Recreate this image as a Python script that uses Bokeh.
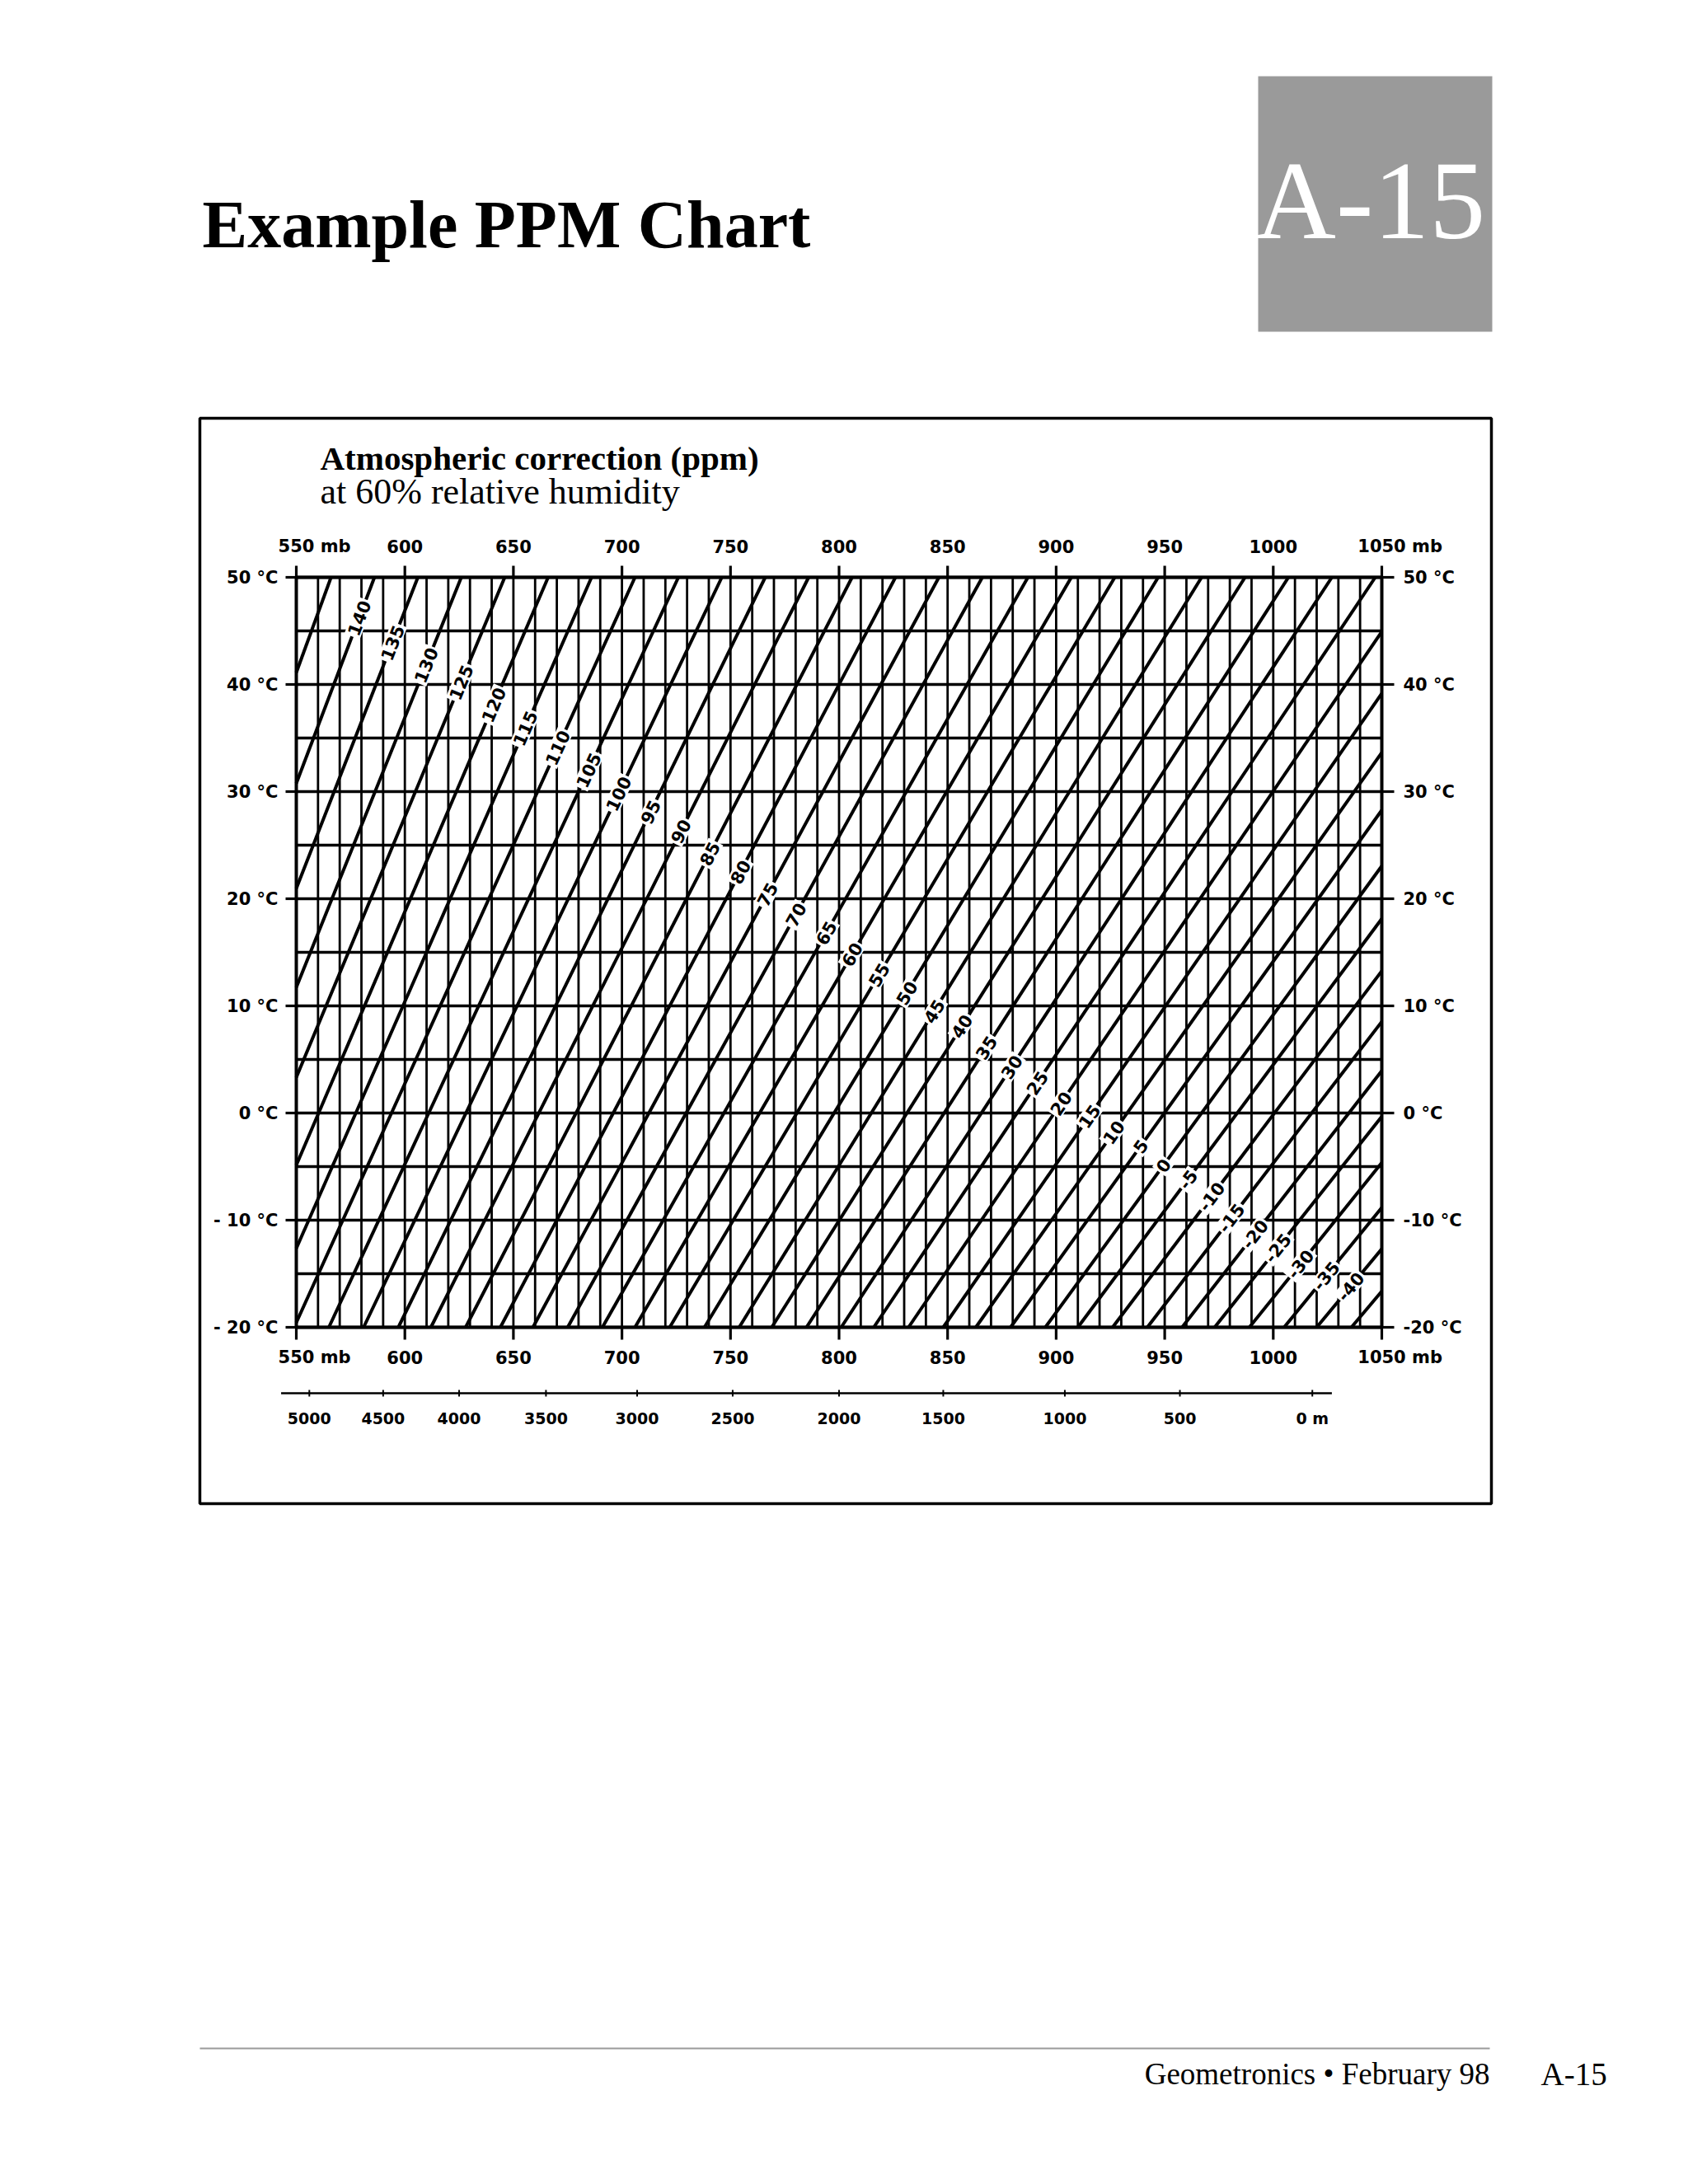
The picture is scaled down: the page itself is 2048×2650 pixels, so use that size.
import math
from bokeh.plotting import figure
from bokeh.models import Range1d
from bokeh.core.properties import value
from bokeh.embed import file_html
from bokeh.resources import INLINE

# ---------------- data ----------------
pressure_ticks = [550, 600, 650, 700, 750, 800, 850, 900, 950, 1000, 1050]
pressure_tick_labels = ["550 mb", "600", "650", "700", "750", "800", "850", "900",
                        "950", "1000", "1050 mb"]
temp_ticks = [-20, -10, 0, 10, 20, 30, 40, 50]
temp_labels_left = ["- 20 °C", "- 10 °C", "0 °C", "10 °C", "20 °C", "30 °C", "40 °C", "50 °C"]
temp_labels_right = ["-20 °C", "-10 °C", "0 °C", "10 °C", "20 °C", "30 °C", "40 °C", "50 °C"]

grid_pressures = [550 + 10 * i for i in range(51)]   # fine grid: every 10 mb
grid_temps = [-20 + 5 * i for i in range(15)]         # fine grid: every 5 °C

# ppm iso-lines: pressure (mb) where each line meets 50 °C and -20 °C
ppm_values = [145, 140, 135, 130, 125, 120, 115, 110, 105, 100, 95, 90, 85, 80, 75,
              70, 65, 60, 55, 50, 45, 40, 35, 30, 25, 20, 15, 10, 5, 0,
              -5, -10, -15, -20, -25, -30, -35, -40, -45]
ppm_p_at_50c = [566, 586, 606, 626, 646, 666, 686, 706, 726, 746, 766, 786, 806, 826, 846,
                866, 887, 907, 927, 947, 967, 987, 1007, 1027, 1047, 1067, 1087, 1107, 1127, 1147,
                1167, 1187, 1207, 1227, 1247, 1267, 1287, 1307, 1327]
ppm_p_at_m20c = [440, 455, 471, 487, 502, 518, 534, 549, 565, 581, 597, 612, 628, 644, 659,
                 675, 691, 706, 722, 738, 754, 769, 785, 801, 816, 832, 848, 863, 879, 895,
                 910, 926, 942, 958, 973, 989, 1005, 1020, 1036]

# labels written on the iso-lines, and the temperature at which each sits
label_ppm = [140, 135, 130, 125, 120, 115, 110, 105, 100, 95, 90, 85, 80, 75, 70, 65, 60,
             55, 50, 45, 40, 35, 30, 25, 20, 15, 10, 5, 0, -5, -10, -15, -20, -25, -30,
             -35, -40]
label_temp = [46.2, 43.9, 41.8, 40.2, 38.1, 35.9, 34.1, 32.0, 29.8, 28.1, 26.3, 24.2, 22.5,
              20.4, 18.5, 16.8, 14.8, 12.9, 11.2, 9.5, 8.1, 6.1, 4.3, 2.8, 0.9, -0.3, -1.8,
              -3.1, -4.9, -6.2, -7.8, -9.8, -11.3, -12.6, -14.1, -15.2, -16.2]

# altitude scale under the pressure axis
altitude_labels = ["5000", "4500", "4000", "3500", "3000", "2500", "2000", "1500",
                   "1000", "500", "0 m"]
altitude_p = [556, 590, 625, 665, 707, 751, 800, 848, 904, 957, 1018]
altitude_extent_p = [543, 1027]

# ---------------- layout (pixels on the page) ----------------
W, H = 2040, 2640
X0, X1 = 359, 1676          # chart grid left / right
Y0, Y1 = 700, 1610          # chart grid top / bottom
PXMB = (X1 - X0) / 500.0    # px per mb
PXDEG = (Y1 - Y0) / 70.0    # px per °C
BASEFIX = 0.37              # renderer places alphabetic baselines ~0.37 em low

p = figure(width=W, height=H, x_range=Range1d(0, W), y_range=Range1d(H, 0),
           output_backend="svg", toolbar_location=None,
           x_axis_location=None, y_axis_location=None, min_border=0,
           outline_line_color=None, background_fill_color="white",
           border_fill_color="white")
p.xgrid.visible = False
p.ygrid.visible = False
p.extra_x_ranges = {"p": Range1d(550 - X0 / PXMB, 550 + (W - X0) / PXMB)}
p.extra_y_ranges = {"t": Range1d(50 - (H - Y0) / PXDEG, 50 + Y0 / PXDEG)}
C = dict(x_range_name="p", y_range_name="t")

SANS = value("DejaVu Sans")
SERIF = value("Liberation Serif")


def page_text(x, baseline, text, size, style="normal", color="black", align="left"):
    p.text(x=[x], y=[baseline - BASEFIX * size], text=[text], text_font=SERIF,
           text_font_style=style, text_font_size=f"{size}px", text_color=color,
           text_align=align, text_baseline="alphabetic")


# ---------------- page decorations ----------------
page_text(245, 302, "Example PPM Chart", 82, style="bold")
p.quad(left=[1526], right=[1810], top=[92], bottom=[402], fill_color="#9a9a9a",
       line_color=None)
page_text(1662, 293, "A-15", 136, color="white", align="center")
p.quad(left=[242], right=[1809], top=[507], bottom=[1824], fill_color=None,
       line_color="black", line_width=3.5)
page_text(388, 571, "Atmospheric correction (ppm)", 41, style="bold")
page_text(388, 612, "at 60% relative humidity", 44)
p.segment(x0=[242], y0=[2485], x1=[1807], y1=[2485], line_color="#9a9a9a", line_width=2)
page_text(1807, 2530, "Geometronics • February 98", 37, align="right")
page_text(1869, 2530, "A-15", 39)

# ---------------- chart grid ----------------
ng, nt = len(grid_pressures), len(grid_temps)
p.segment(x0=grid_pressures, y0=[-20] * ng, x1=grid_pressures, y1=[50] * ng,
          line_color="black", line_width=2.8, **C)
p.segment(x0=[550] * nt, y0=grid_temps, x1=[1050] * nt, y1=grid_temps,
          line_color="black", line_width=3.3, **C)

# ppm iso-lines clipped to the grid
dx0, dy0, dx1, dy1 = [], [], [], []
for pb, pt in zip(ppm_p_at_m20c, ppm_p_at_50c):
    def t_at(x):
        return -20 + 70.0 * (x - pb) / (pt - pb)
    sx_, sy_ = (pb, -20.0) if pb >= 550 else (550.0, t_at(550))
    ex_, ey_ = (pt, 50.0) if pt <= 1050 else (1050.0, t_at(1050))
    if sx_ < ex_ and sy_ < ey_:
        dx0.append(sx_); dy0.append(sy_); dx1.append(ex_); dy1.append(ey_)
p.segment(x0=dx0, y0=dy0, x1=dx1, y1=dy1, line_color="black", line_width=4.0, **C)

p.quad(left=[550], right=[1050], bottom=[-20], top=[50], fill_color=None,
       line_color="black", line_width=4.0, **C)

# labels on the iso-lines
lx, ang = [], []
for v, t in zip(label_ppm, label_temp):
    i = ppm_values.index(v)
    pb, pt = ppm_p_at_m20c[i], ppm_p_at_50c[i]
    lx.append(pb + (t + 20) / 70.0 * (pt - pb))
    ang.append(math.atan2(70 * PXDEG, (pt - pb) * PXMB))
p.text(x=lx, y=label_temp, text=[str(v) for v in label_ppm], angle=ang,
       text_align="center", text_baseline="middle", text_font=SANS,
       text_font_style="bold", text_font_size="21px", text_color="black",
       background_fill_color="white", padding=2, **C)

# ---------------- axes: ticks and tick labels ----------------
nP, nT = len(pressure_ticks), len(temp_ticks)
tick_w = 3.2
p.segment(x0=pressure_ticks, y0=[50] * nP, x1=pressure_ticks, y1=[50 + 14 / PXDEG] * nP,
          line_color="black", line_width=tick_w, **C)
p.segment(x0=pressure_ticks, y0=[-20] * nP, x1=pressure_ticks, y1=[-20 - 15 / PXDEG] * nP,
          line_color="black", line_width=tick_w, **C)
p.segment(x0=[550 - 13 / PXMB] * nT, y0=temp_ticks, x1=[550] * nT, y1=temp_ticks,
          line_color="black", line_width=tick_w, **C)
p.segment(x0=[1050] * nT, y0=temp_ticks, x1=[1050 + 15 / PXMB] * nT, y1=temp_ticks,
          line_color="black", line_width=tick_w, **C)

AX = dict(text_font=SANS, text_font_style="bold", text_font_size="21px",
          text_color="black", text_baseline="alphabetic", **C)
DIGIT = 0.696 * 21  # approx digit width of the label font, px

plain = [(x, s) for x, s in zip(pressure_ticks, pressure_tick_labels) if not s.endswith(" mb")]
unit = [(x, s) for x, s in zip(pressure_ticks, pressure_tick_labels) if s.endswith(" mb")]
for ybase in (50 + 38 / PXDEG, -20 - 36 / PXDEG):
    p.text(x=[x for x, _ in plain], y=[ybase] * len(plain), text=[s for _, s in plain],
           text_align="center", **AX)
    p.text(x=[x for x, _ in unit], y=[ybase] * len(unit), text=[s for _, s in unit],
           x_offset=[-(len(s) - 3) * DIGIT / 2 for _, s in unit], text_align="left", **AX)

AXM = dict(AX)
AXM["text_baseline"] = "middle"
p.text(x=[550 - 22 / PXMB] * nT, y=temp_ticks, text=temp_labels_left, text_align="right", **AXM)
p.text(x=[1050 + 26 / PXMB] * nT, y=temp_ticks, text=temp_labels_right, text_align="left", **AXM)

# ---------------- altitude scale ----------------
alt_y = -20 - 80 / PXDEG
nA = len(altitude_p)
p.segment(x0=[altitude_extent_p[0]], y0=[alt_y], x1=[altitude_extent_p[1]], y1=[alt_y],
          line_color="black", line_width=2.5, **C)
p.segment(x0=altitude_p, y0=[alt_y + 4 / PXDEG] * nA, x1=altitude_p, y1=[alt_y - 4 / PXDEG] * nA,
          line_color="black", line_width=2, **C)
ALT = dict(AX)
ALT["text_font_size"] = "19px"
p.text(x=altitude_p, y=[alt_y - 30 / PXDEG] * nA, text=altitude_labels,
       text_align="center", **ALT)

open("out.html", "w").write(file_html(p, INLINE))
